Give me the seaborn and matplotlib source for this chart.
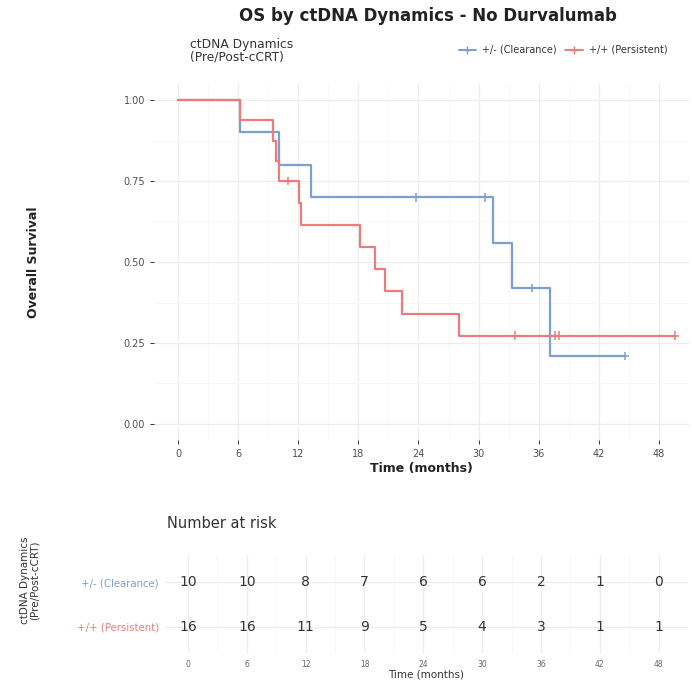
import numpy as np
import pandas as pd
import matplotlib
matplotlib.use("Agg")
import matplotlib.pyplot as plt
import seaborn as sns
from matplotlib.lines import Line2D

# ---- data (months, 1 = death, 0 = censored) ----
GROUPS = ["+/- (Clearance)", "+/+ (Persistent)"]
clear_time = [6.2, 10.1, 13.3, 23.8, 30.6, 31.4, 33.3, 35.3, 37.1, 44.6]
clear_event = [1, 1, 1, 0, 0, 1, 1, 0, 1, 0]
pers_time = [6.2, 9.5, 9.8, 10.1, 11.0, 12.1, 12.3, 18.2, 19.7, 20.7,
             22.4, 28.0, 33.6, 37.6, 38.0, 49.6]
pers_event = [1, 1, 1, 1, 0, 1, 1, 1, 1, 1, 1, 1, 0, 0, 0, 0]
risk_ticks = [0, 6, 12, 18, 24, 30, 36, 42, 48]
y_ticks = [0.0, 0.25, 0.50, 0.75, 1.00]

COLORS = {GROUPS[0]: "#7b9fce", GROUPS[1]: "#ee7b7b"}


def km_table(times, events, group):
    """Kaplan-Meier steps + censor points for one group"""
    t = np.asarray(times, float)
    e = np.asarray(events, int)
    order = np.argsort(t, kind="stable")
    t, e = t[order], e[order]
    surv = 1.0
    rows = [(0.0, 1.0)]
    cens = []
    for ut in np.unique(t):
        at_risk = np.sum(t >= ut)
        d = np.sum((t == ut) & (e == 1))
        if d:
            surv *= (at_risk - d) / at_risk
        rows.append((ut, surv))
        if np.any((t == ut) & (e == 0)):
            cens.append((ut, surv))
    steps = pd.DataFrame(rows, columns=["time", "surv"])
    steps["group"] = group
    cdf = pd.DataFrame(cens, columns=["time", "surv"])
    cdf["group"] = group
    return steps, cdf


s1, c1 = km_table(clear_time, clear_event, GROUPS[0])
s2, c2 = km_table(pers_time, pers_event, GROUPS[1])
steps = pd.concat([s1, s2], ignore_index=True)
cens = pd.concat([c1, c2], ignore_index=True)

risk = {
    GROUPS[0]: [int(np.sum(np.asarray(clear_time) >= x)) for x in risk_ticks],
    GROUPS[1]: [int(np.sum(np.asarray(pers_time) >= x)) for x in risk_ticks],
}

sns.set_theme(style="whitegrid")
plt.rcParams["font.family"] = ["DejaVu Sans"]

fig = plt.figure(figsize=(6.92, 6.84), dpi=100)
W, H = 692, 684


def axes_px(left, top, right, bottom):
    return fig.add_axes([left / W, 1 - bottom / H, (right - left) / W, (bottom - top) / H])


GRID_MAJ = "#ededed"
GRID_MIN = "#f6f6f6"
TXT = "#4d4d4d"

# ---- survival panel ----
ax = axes_px(154, 83.8, 689, 440.2)
sns.lineplot(data=steps, x="time", y="surv", hue="group", palette=COLORS,
             drawstyle="steps-post", estimator=None, linewidth=1.6,
             legend=False, ax=ax)
sns.scatterplot(data=cens, x="time", y="surv", hue="group", palette=COLORS,
                marker="+", s=40, linewidth=1.1, legend=False, ax=ax, zorder=5)
ax.set_xlim(-2.4, 51.0)
ax.set_ylim(-0.05, 1.05)
ax.set_xticks(risk_ticks)
ax.set_xticks(np.arange(3, 51, 6), minor=True)
ax.set_yticks(y_ticks)
ax.set_yticks([0.125, 0.375, 0.625, 0.875], minor=True)
ax.set_yticklabels([f"{v:.2f}" for v in y_ticks])
ax.grid(True, which="major", color=GRID_MAJ, linewidth=0.9)
ax.grid(True, which="minor", color=GRID_MIN, linewidth=0.6)
for sp in ax.spines.values():
    sp.set_visible(False)
ax.tick_params(axis="both", which="major", length=3, width=0.7, color="#333333",
               labelsize=7, labelcolor=TXT, bottom=True, left=True)
ax.tick_params(axis="both", which="minor", length=0)
ax.set_xlabel("Time (months)", fontsize=9, fontweight="bold", color="#222222", labelpad=2)
ax.set_ylabel("Overall Survival", fontsize=9, fontweight="bold", color="#222222", labelpad=60)

fig.text(428 / W, 1 - 16 / H, "OS by ctDNA Dynamics - No Durvalumab",
         ha="center", va="center", fontsize=12, fontweight="bold", color="#222222")
fig.text(190 / W, 1 - 51 / H, "ctDNA Dynamics\n(Pre/Post-cCRT)", ha="left", va="center",
         fontsize=8.8, color="#333333", linespacing=1.0)
handles = [Line2D([], [], color=COLORS[g], marker="+", markersize=6, linewidth=1.4) for g in GROUPS]
fig.legend(handles, GROUPS, loc="center right", bbox_to_anchor=(676 / W, 1 - 50 / H),
           ncol=2, frameon=False, fontsize=7, handlelength=1.8, columnspacing=0.9,
           handletextpad=0.6, labelcolor="#333333")

# ---- risk table ----
rt = axes_px(164.5, 555, 688, 654)
rows_y = {GROUPS[0]: 1, GROUPS[1]: 0}
for g in GROUPS:
    for x, n in zip(risk_ticks, risk[g]):
        rt.text(x, rows_y[g], str(n), ha="center", va="center", fontsize=10, color="#333333")
rt.set_xlim(-2.4, 51.0)
rt.set_ylim(-0.6, 1.6)
rt.set_xticks(risk_ticks)
rt.set_xticks(np.arange(3, 51, 6), minor=True)
rt.set_yticks([0, 1])
rt.set_yticklabels([GROUPS[1], GROUPS[0]])
for lbl, g in zip(rt.get_yticklabels(), [GROUPS[1], GROUPS[0]]):
    lbl.set_color(COLORS[g])
rt.grid(True, which="major", color=GRID_MAJ, linewidth=0.9)
rt.grid(True, which="minor", color=GRID_MIN, linewidth=0.6)
for sp in rt.spines.values():
    sp.set_visible(False)
rt.tick_params(axis="x", which="major", length=0, labelsize=5.5, labelcolor="#666666", pad=4)
rt.tick_params(axis="y", which="major", length=0, labelsize=7.3, pad=4)
rt.tick_params(which="minor", length=0)
rt.set_xlabel("Time (months)", fontsize=7.5, color="#333333", labelpad=1)
rt.set_ylabel("ctDNA Dynamics\n(Pre/Post-cCRT)", fontsize=7.5, color="#333333",
              linespacing=1.0)
rt.yaxis.set_label_coords(-0.238, 0.75)
fig.text(167 / W, 1 - 523 / H, "Number at risk", ha="left", va="center",
         fontsize=10.5, color="#333333")

fig.savefig("out.png", dpi=100)
